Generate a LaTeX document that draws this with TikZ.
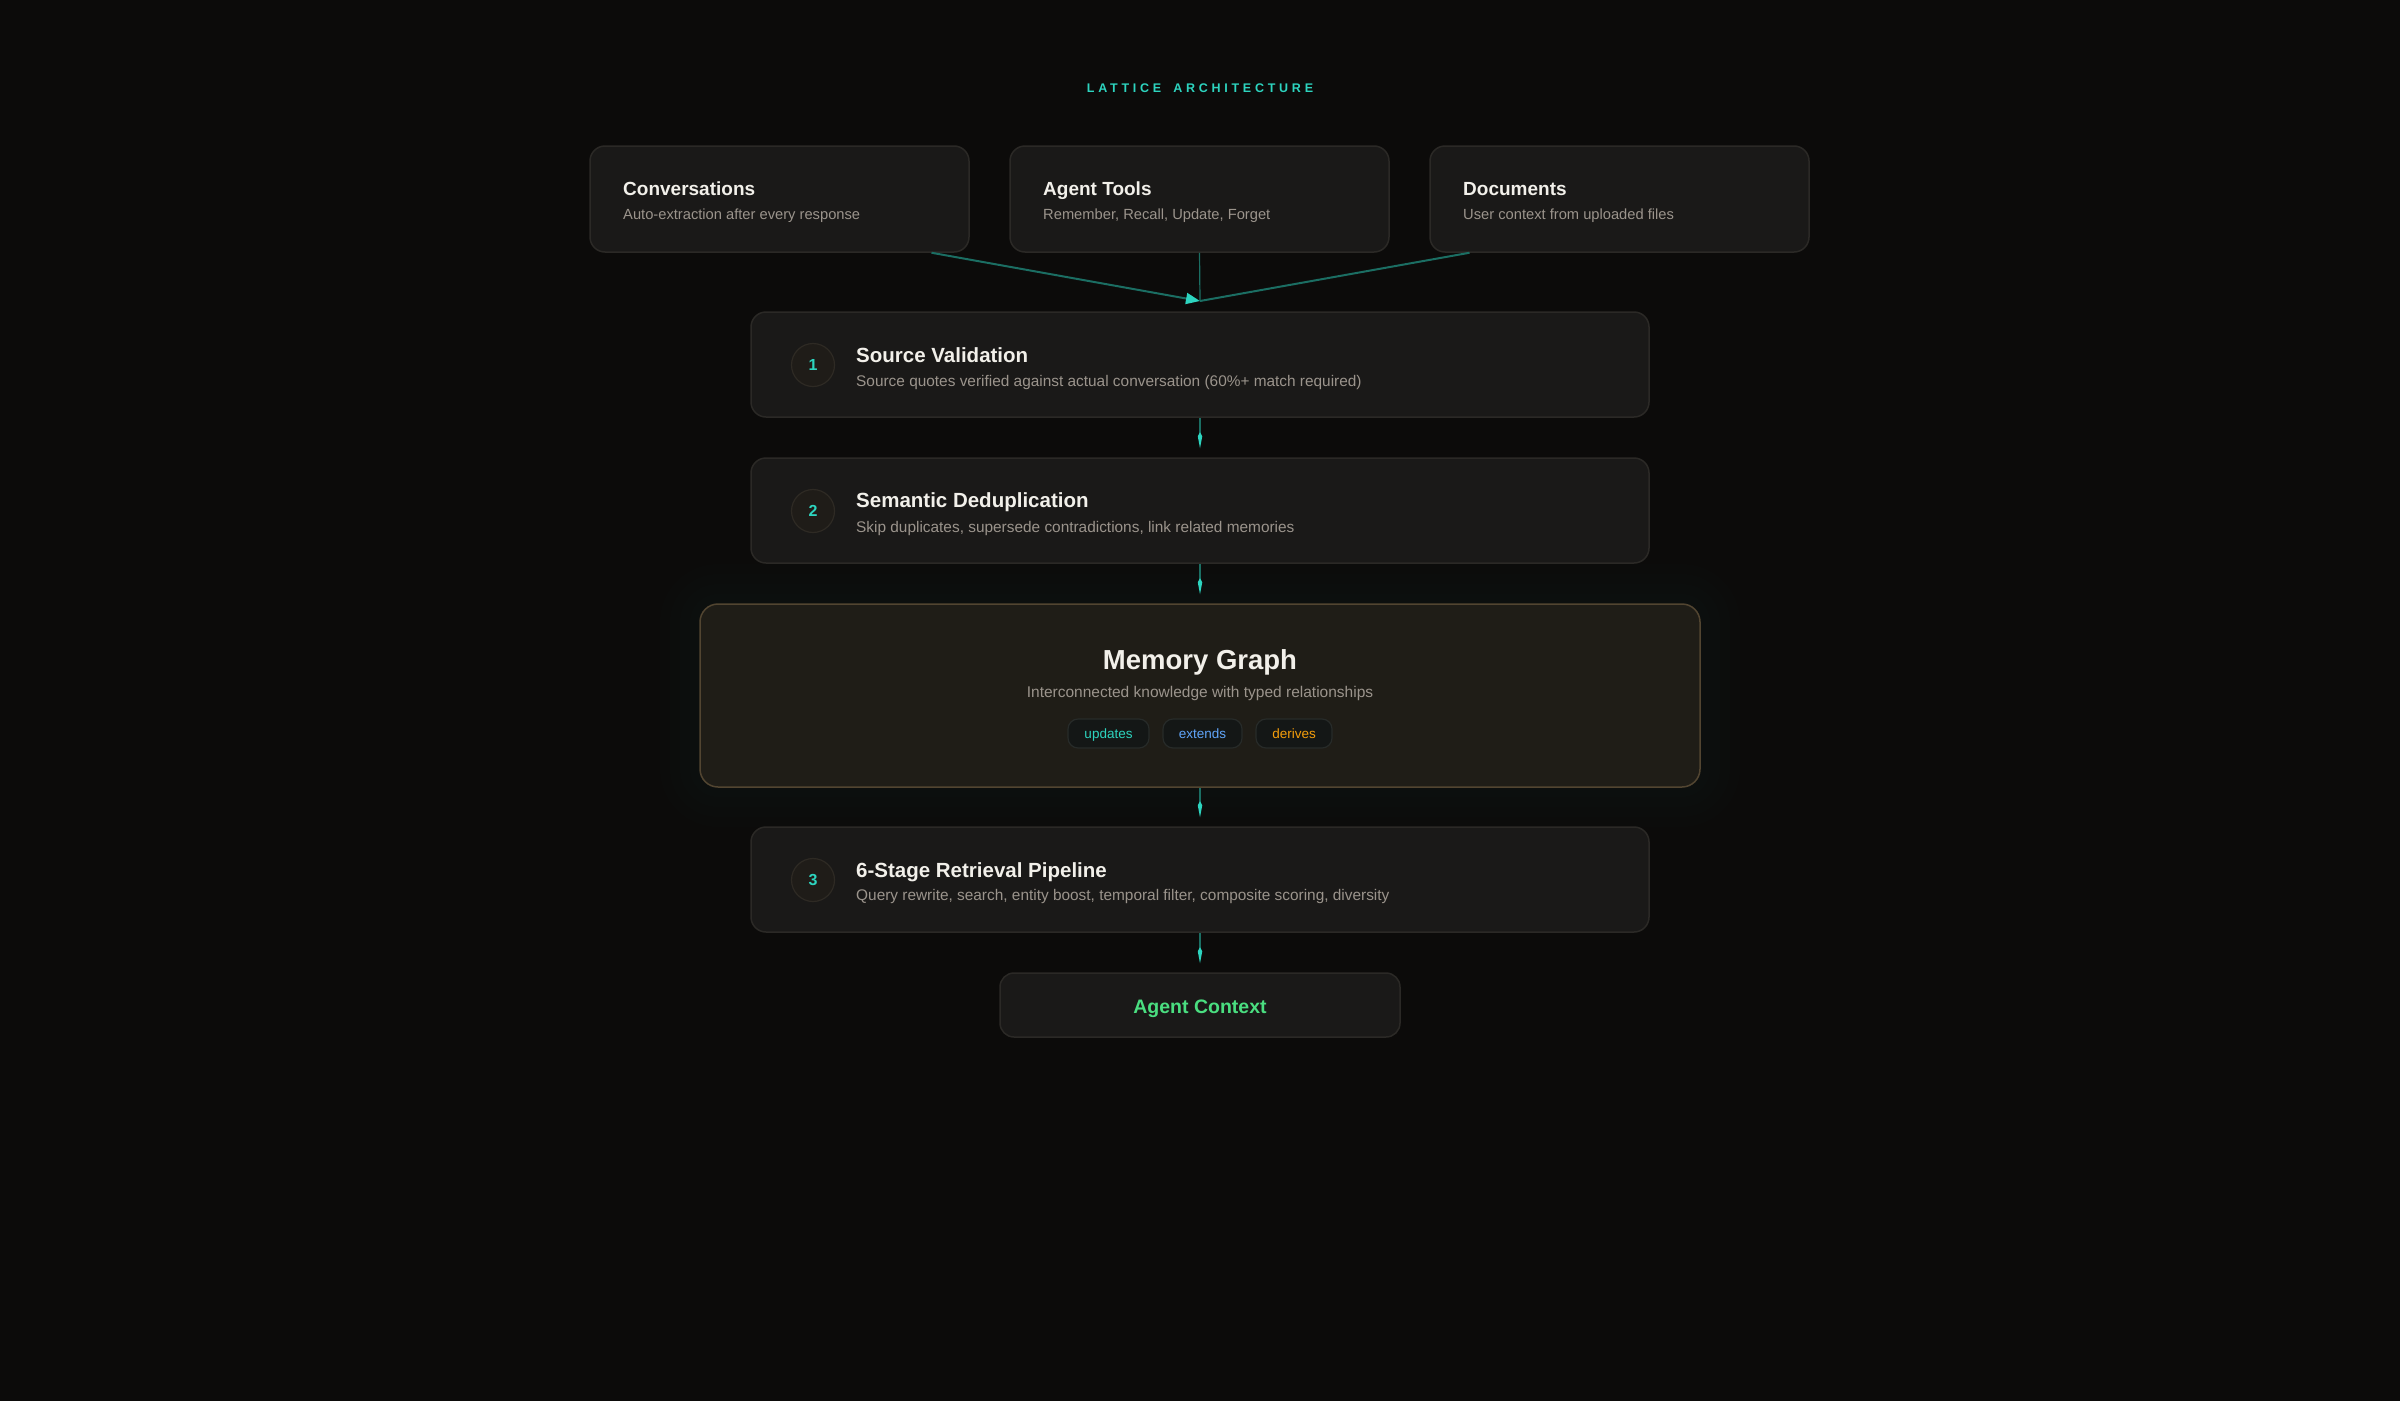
\documentclass[tikz,border=0pt]{standalone}
\usepackage{fontspec}
\setmainfont{Liberation Sans}
\usetikzlibrary{arrows.meta,positioning}

\definecolor{bgc}{HTML}{0C0B0A}
\definecolor{cardc}{HTML}{1A1918}
\definecolor{edgec}{HTML}{2B2926}
\definecolor{txtc}{HTML}{F2F0EA}
\definecolor{subc}{HTML}{9B948C}
\definecolor{tealc}{HTML}{2DD4BF}
\definecolor{dimc}{HTML}{1B6E63}
\definecolor{numfill}{HTML}{1F1C18}
\definecolor{numedge}{HTML}{2E2A24}
\definecolor{graphfill}{HTML}{1F1D17}
\definecolor{graphedge}{HTML}{524531}
\definecolor{pillfill}{HTML}{141716}
\definecolor{pilledge}{HTML}{272B29}
\definecolor{bluec}{HTML}{60A5FA}
\definecolor{orangec}{HTML}{F59E0B}
\definecolor{greenc}{HTML}{4ADE80}

\newcommand{\fsz}[1]{\fontsize{#1}{#1}\selectfont}

\begin{document}
\begin{tikzpicture}[x=1pt,y=1pt,
    card/.style={draw=edgec, fill=cardc, line width=1.5pt, rounded corners=15pt},
    cardtitle/.style={anchor=base west, text=txtc, font=\fsz{19}\bfseries},
    cardsub/.style={anchor=base west, text=subc, font=\fsz{14.7}},
    steptitle/.style={anchor=base west, text=txtc, font=\fsz{20.5}\bfseries},
    stepsub/.style={anchor=base west, text=subc, font=\fsz{15.4}},
    stepnum/.style={circle, draw=numedge, fill=numfill, line width=1.2pt, minimum size=43pt, text=tealc, font=\fsz{16}\bfseries},
    pill/.style={draw=pilledge, fill=pillfill, line width=1.2pt, rounded corners=10pt, minimum height=29pt, text height=9.5pt, text depth=0pt, font=\fsz{13.5}},
    link/.style={draw=dimc, line width=1.5pt, shorten >=9pt, -{Kite[length=16pt,width=4.5pt,inset=4pt,color=tealc]}},
    feed/.style={draw=dimc, line width=2pt}]
  \tikzstyle{every node}+=[inner sep=0pt]
  % background and page size
  \useasboundingbox (0,0) rectangle (2400,-1400);
  \fill [bgc] (-5,5) rectangle (2405,-1405);
  \node [text=tealc, font=\fsz{12.5}\bfseries\addfontfeature{LetterSpace=30}] (head) at (1200,-88) {LATTICE\hspace{12pt}ARCHITECTURE};
  % sources
  \node [card, minimum width=379pt, minimum height=106pt] (conv) at (779.5,-199) {};
  \node [card, minimum width=379pt, minimum height=106pt] (tools) at (1199.5,-199) {};
  \node [card, minimum width=379pt, minimum height=106pt] (docs) at (1619.5,-199) {};
  \node [cardtitle] (convt) at (623,-195) {Conversations};
  \node [cardsub] (convs) at (623,-219) {Auto-extraction after every response};
  \node [cardtitle] (toolst) at (1043,-195) {Agent Tools};
  \node [cardsub] (toolss) at (1043,-219) {Remember, Recall, Update, Forget};
  \node [cardtitle] (docst) at (1463,-195) {Documents};
  \node [cardsub] (docss) at (1463,-219) {User context from uploaded files};
  \coordinate (merge) at (1200,-301);
  \draw [feed, -{Triangle[length=14pt,width=11pt,color=tealc]}] ([xshift=152pt]conv.south) -- (merge);
  \draw [feed, line width=1.2pt] (tools.south) -- (merge);
  \draw [feed] ([xshift=-150pt]docs.south) -- (merge);
  % pipeline steps
  \node [card, minimum width=898pt, minimum height=105pt] (valid) at (1200,-364.5) {};
  \node [stepnum] (n1) at (813,-365) {1};
  \node [steptitle] (validt) at (856,-362) {Source Validation};
  \node [stepsub] (valids) at (856,-386) {Source quotes verified against actual conversation (60\%+ match required)};
  \node [card, minimum width=898pt, minimum height=105pt] (dedup) at (1200,-510.5) {};
  \node [stepnum] (n2) at (813,-511) {2};
  \node [steptitle] (dedupt) at (856,-507) {Semantic Deduplication};
  \node [stepsub] (dedups) at (856,-532) {Skip duplicates, supersede contradictions, link related memories};
  % memory graph with soft glow
  \foreach \g in {40,30,20,10}
    \fill [tealc, opacity=0.008, rounded corners=18pt+\g pt] (700-\g,-604+\g) rectangle (1700+\g,-787-\g);
  \node [card, draw=graphedge, fill=graphfill, rounded corners=18pt, minimum width=1000pt, minimum height=183pt] (graph) at (1200,-695.5) {};
  \node [text=txtc, font=\fsz{27.5}\bfseries, anchor=base] (grapht) at (1200,-669) {Memory Graph};
  \node [text=subc, font=\fsz{15.5}, anchor=base] (graphs) at (1200,-697) {Interconnected knowledge with typed relationships};
  \node [pill, minimum width=81pt, text=tealc] (upd) at (1108.5,-733.5) {updates};
  \node [pill, minimum width=79pt, text=bluec] (ext) at (1202.5,-733.5) {extends};
  \node [pill, minimum width=76pt, text=orangec] (der) at (1294,-733.5) {derives};
  \node [card, minimum width=898pt, minimum height=105pt] (retr) at (1200,-879.5) {};
  \node [stepnum] (n3) at (813,-880) {3};
  \node [steptitle] (retrt) at (856,-877) {6-Stage Retrieval Pipeline};
  \node [stepsub] (retrs) at (856,-900) {Query rewrite, search, entity boost, temporal filter, composite scoring, diversity};
  % output
  \node [card, rounded corners=14pt, minimum width=400pt, minimum height=64pt, text height=16pt, text depth=0pt, text=greenc, font=\fsz{19.5}\bfseries] (ctx) at (1200,-1005) {Agent Context};
  \draw [link] (valid.south) -- (dedup.north);
  \draw [link] (dedup.south) -- (graph.north);
  \draw [link] (graph.south) -- (retr.north);
  \draw [link] (retr.south) -- (ctx.north);
\end{tikzpicture}
\end{document}
